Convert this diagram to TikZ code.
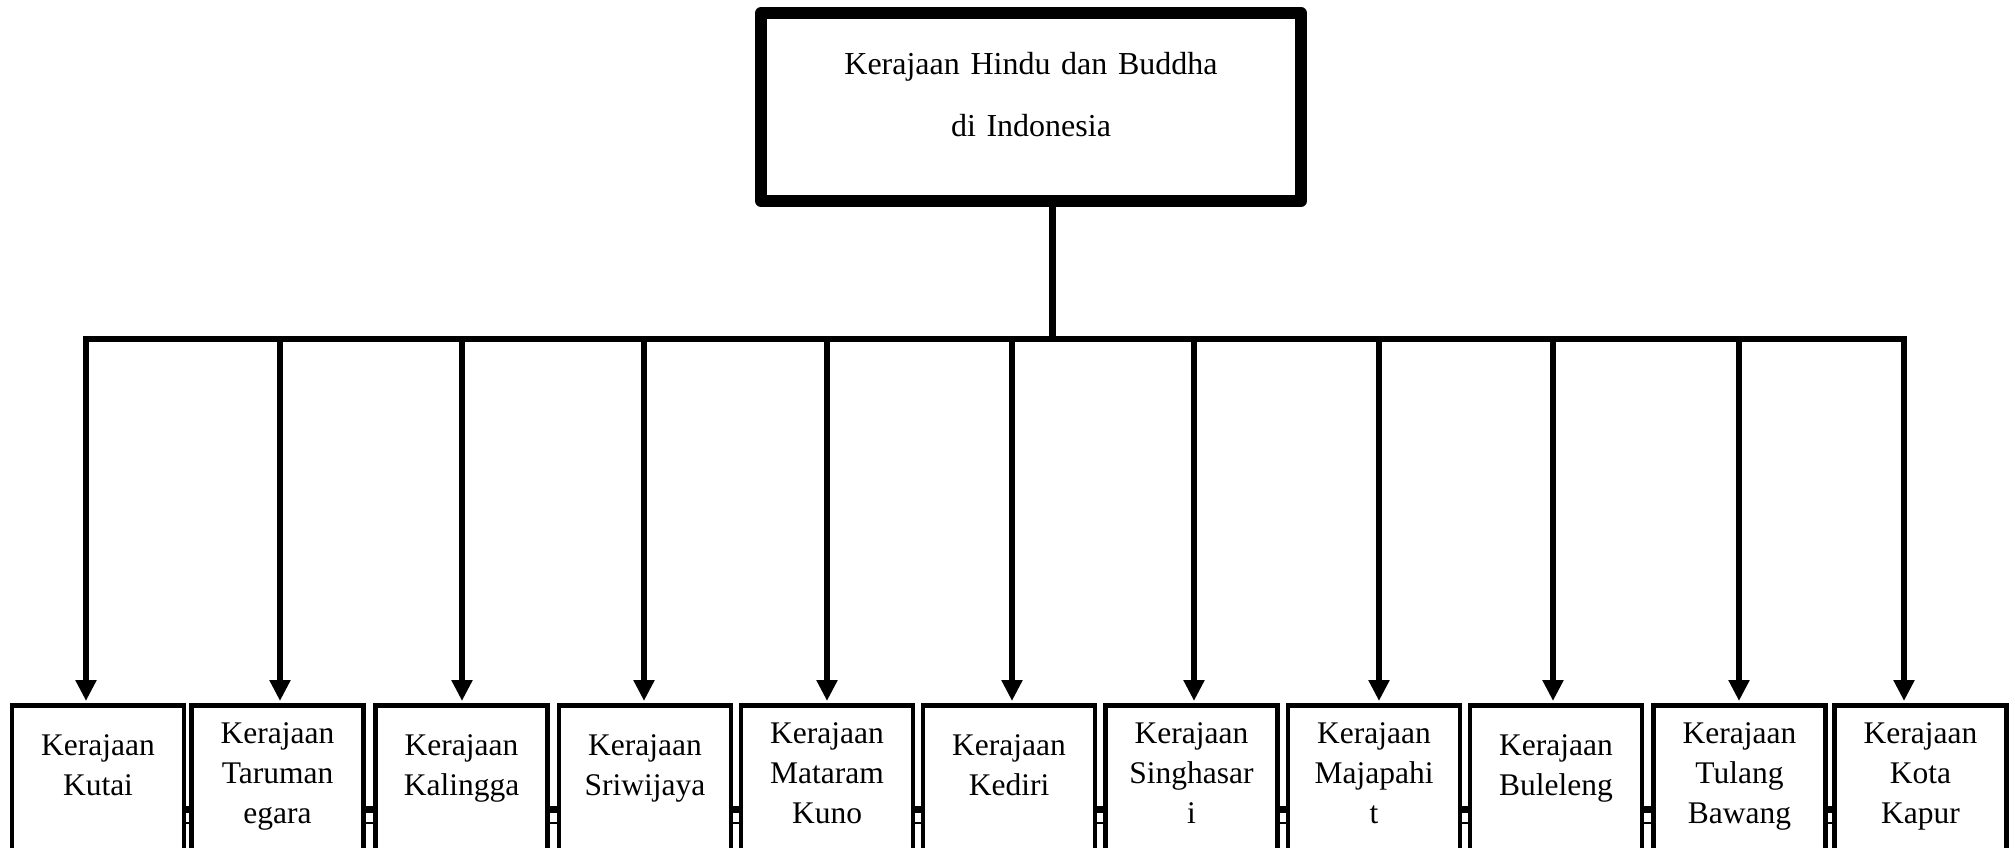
\documentclass[tikz,border=0pt]{standalone}
\usepackage{fontspec}
\setmainfont{Liberation Serif}
\usetikzlibrary{arrows.meta,calc}
\begin{document}
\begin{tikzpicture}[x=1pt,y=-1pt,
  topbox/.style={draw, line width=12pt, line join=round, fill=white, minimum width=540pt, minimum height=188pt, inner sep=0pt},
  kbox/.style={draw, line width=4.5pt, fill=white, minimum width=172pt, minimum height=220pt, inner sep=0pt, anchor=north},
  ktext/.style={font=\fontsize{31.5}{40}\selectfont, align=center, text width=170pt, inner sep=0pt, anchor=base},
  toptext/.style={font=\fontsize{32}{62}\selectfont, align=center, text width=520pt, inner sep=0pt, anchor=base},
  link/.style={line width=6pt},
  arr/.style={line width=6pt, shorten >=2pt, -{Triangle[width=20pt,length=21pt]}},
  backline/.style={line width=7pt}
]
\useasboundingbox (0,0) rectangle (2015,848);
\clip (0,0) rectangle (2015,848);

% top box
\node[topbox] (top) at (1031,107) {};
\node[toptext] (toptxt) at (1031,75) {Kerajaan Hindu dan Buddha\\di Indonesia};

% stem and bar
\coordinate (j) at (1052,339);
\coordinate (bl) at (83,339);
\coordinate (br) at (1907,339);
\draw[line width=7pt] (top.south -| j) -- (j);
\draw[link] (bl) -- (br);

% lines seen behind the boxes
\draw[backline] (184,809) -- (1836,809);
\draw[line width=2.5pt] (184,823) -- (1836,823);

% bottom boxes
\foreach \i/\cx in {1/98,2/277.5,3/461.5,4/645,5/827,6/1009,7/1191.5,8/1374,9/1556,10/1739.5,11/1920.5}{
  \node[kbox] (b\i) at (\cx,703) {};
}
\node[ktext] (k1) at (b1.north |- 0,755) {Kerajaan\\Kutai};
\node[ktext] (k2) at (b2.north |- 0,743) {Kerajaan\\Taruman\\egara};
\node[ktext] (k3) at (b3.north |- 0,755) {Kerajaan\\Kalingga};
\node[ktext] (k4) at (b4.north |- 0,755) {Kerajaan\\Sriwijaya};
\node[ktext] (k5) at (b5.north |- 0,743) {Kerajaan\\Mataram\\Kuno};
\node[ktext] (k6) at (b6.north |- 0,755) {Kerajaan\\Kediri};
\node[ktext] (k7) at (b7.north |- 0,743) {Kerajaan\\Singhasar\\i};
\node[ktext] (k8) at (b8.north |- 0,743) {Kerajaan\\Majapahi\\t};
\node[ktext] (k9) at (b9.north |- 0,755) {Kerajaan\\Buleleng};
\node[ktext] (k10) at (b10.north |- 0,743) {Kerajaan\\Tulang\\Bawang};
\node[ktext] (k11) at (b11.north |- 0,743) {Kerajaan\\Kota\\Kapur};

% arrows
\foreach \i/\x in {1/86,2/280,3/462,4/644,5/827,6/1012,7/1194,8/1379,9/1553,10/1739,11/1904}{
  \coordinate (t\i) at (\x,339);
  \draw[arr] (t\i) -- (t\i |- b\i.north);
}
\end{tikzpicture}
\end{document}
